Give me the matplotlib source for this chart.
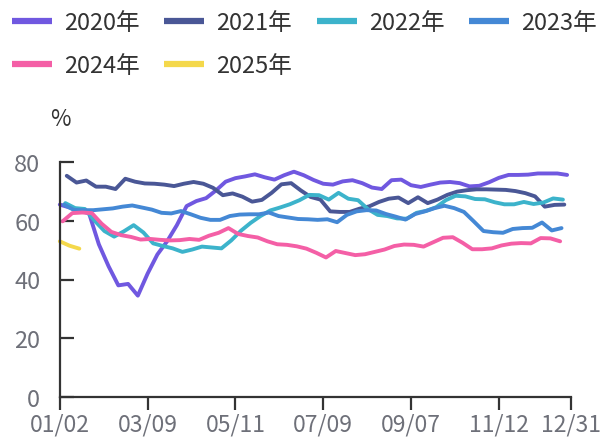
import numpy as np
import pandas as pd
import matplotlib
matplotlib.use("Agg")
import matplotlib.pyplot as plt
from matplotlib.lines import Line2D

plt.rcParams['font.family'] = ['Noto Sans CJK SC', 'DejaVu Sans']

years = ['2020年', '2021年', '2022年', '2023年', '2024年', '2025年']
colors = ['#7058e0', '#4a5796', '#3cb3cb', '#4488d5', '#f45fa6', '#f4d84b']
# first weekly date of each year (MM/DD)
start_dates = ['01/02', '01/07', '01/06', '01/05', '01/04', '01/02']

v2020 = [65.5, 64.5, 63.5, 62.5, 52.0, 44.5, 38.0, 38.5, 34.5, 42.0,
         48.5, 53.0, 58.5, 65.0, 66.7, 67.7, 70.3, 73.3, 74.5, 75.1,
         75.8, 74.8, 74.0, 75.5, 76.7, 75.5, 73.9, 72.6, 72.3, 73.4,
         73.8, 72.8, 71.3, 70.8, 73.8, 74.0, 72.1, 71.5, 72.3, 73.0,
         73.2, 72.8, 71.7, 71.9, 73.1, 74.6, 75.6, 75.6, 75.7, 76.1,
         76.1, 76.1, 75.6]
v2021 = [75.3, 73.0, 73.7, 71.6, 71.6, 70.8, 74.3, 73.3, 72.7, 72.6,
         72.3, 71.8, 72.6, 73.2, 72.6, 71.2, 68.7, 69.3, 68.2, 66.5,
         67.1, 69.5, 72.4, 72.8, 70.3, 68.1, 67.2, 63.2, 63.0, 63.0,
         64.1, 64.9, 66.4, 67.5, 67.9, 66.0, 68.0, 66.0, 67.2, 68.8,
         69.9, 70.4, 70.7, 70.7, 70.6, 70.5, 70.1, 69.4, 68.3, 64.8,
         65.4, 65.5]
v2022 = [66.0, 64.3, 64.0, 60.0, 56.5, 54.6, 56.4, 58.5, 56.0, 52.3,
         51.4, 50.6, 49.4, 50.2, 51.2, 50.9, 50.6, 53.3, 56.6, 59.3,
         61.6, 63.5, 64.5, 65.6, 67.0, 68.8, 68.7, 67.2, 69.5, 67.5,
         67.0, 64.0, 62.0, 61.6, 60.8, 60.7, 62.7, 63.4, 64.6, 67.0,
         68.5, 68.3, 67.4, 67.3, 66.3, 65.6, 65.6, 66.4, 65.7, 66.2,
         67.6, 67.2]
v2023 = [65.5, 63.7, 63.6, 63.6, 63.9, 64.2, 64.8, 65.2, 64.5, 63.8,
         62.7, 62.5, 63.3, 62.2, 61.0, 60.3, 60.3, 61.6, 62.1, 62.2,
         62.2, 62.8, 61.6, 61.1, 60.6, 60.5, 60.3, 60.5, 59.5, 62.0,
         63.2, 63.6, 63.5, 62.3, 61.4, 60.4, 62.3, 63.2, 64.3, 65.1,
         64.3, 63.0, 59.8, 56.5, 56.1, 55.9, 57.2, 57.5, 57.6, 59.4,
         56.7, 57.5]
v2024 = [59.8, 62.6, 62.8, 62.6, 59.0, 56.2, 55.1, 54.5, 53.6, 53.8,
         53.5, 53.3, 53.4, 53.8, 53.5, 54.9, 55.9, 57.5, 55.5, 54.8,
         54.3, 53.0, 52.0, 51.8, 51.3, 50.5, 49.1, 47.5, 49.7, 49.0,
         48.3, 48.6, 49.4, 50.2, 51.4, 51.9, 51.8, 51.2, 52.7, 54.2,
         54.4, 52.5, 50.3, 50.3, 50.6, 51.6, 52.2, 52.4, 52.3, 54.1,
         54.0, 53.0]
v2025 = [53.0, 51.5, 50.5]
series = [v2020, v2021, v2022, v2023, v2024, v2025]

tick_labels = ['01/02', '03/09', '05/11', '07/09', '09/07', '11/12', '12/31']
tick_pos = [0, 9, 18, 27, 36, 45, 52.4]

fig = plt.figure(figsize=(6.02, 4.39), dpi=100)
ax = fig.add_axes([59.8 / 602, 1 - 398 / 439, (571 - 59.8) / 602, (398 - 163) / 439])

base = pd.Timestamp('2021/01/02')
for vals, start, c in zip(series, start_dates, colors):
    offset = (pd.Timestamp('2021/' + start) - base).days / 7
    x = offset + np.arange(len(vals))
    ax.plot(x, vals, color=c, lw=2.8, solid_joinstyle='round',
            solid_capstyle='round', clip_on=False)

ax.set_xlim(0, tick_pos[-1])
ax.set_ylim(0, 80)
ax.set_yticks([0, 20, 40, 60, 80])
ax.set_xticks(tick_pos)
ax.set_xticklabels(tick_labels)

for s in ['top', 'right']:
    ax.spines[s].set_visible(False)
for s in ['left', 'bottom']:
    ax.spines[s].set_color('#333333')
    ax.spines[s].set_linewidth(1.6)

ax.tick_params(axis='y', direction='in', length=10, width=1.6, color='#333333',
               labelcolor='#6e7079', labelsize=17, pad=14)
ax.tick_params(axis='x', direction='out', length=9, width=1.6, color='#333333',
               labelcolor='#6e7079', labelsize=16.5, pad=2)

fig.text(60 / 602, 1 - 119 / 439, '%', ha='center', va='center',
         fontsize=16, color='#333333')

handles = [Line2D([], [], color=c, lw=4.5, solid_capstyle='butt') for c in colors]
order = [0, 4, 1, 5, 2, 3]
fig.legend([handles[i] for i in order], [years[i] for i in order], ncol=4,
           loc='upper left', bbox_to_anchor=(0.0, 1.0), frameon=False,
           fontsize=17, handlelength=1.7, handletextpad=0.5,
           columnspacing=1.05, labelspacing=0.85, borderaxespad=0.3,
           borderpad=0.2, labelcolor='#333333')

fig.savefig('out.png', dpi=100)
